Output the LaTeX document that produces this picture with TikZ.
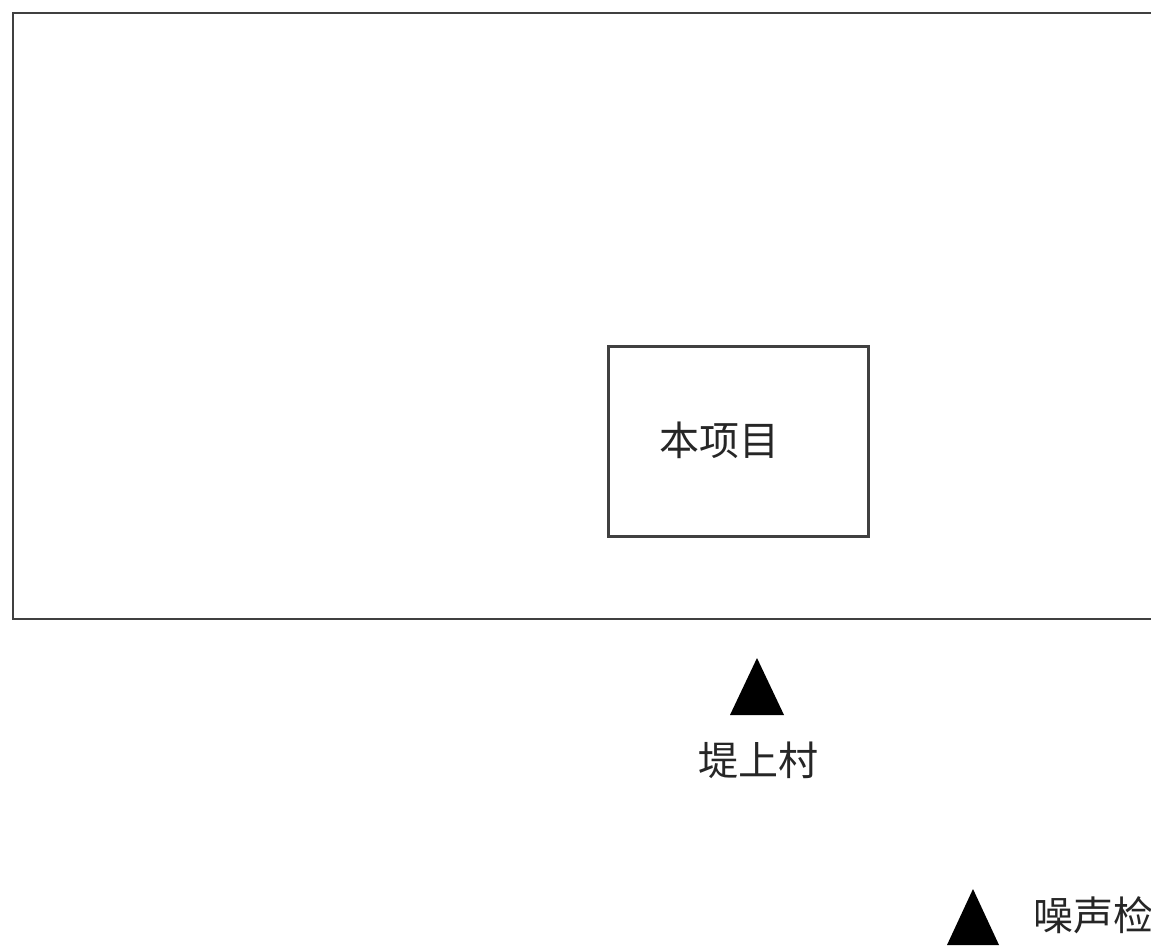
\documentclass[tikz,border=0pt]{standalone}
\usepackage{fontspec}
\newfontfamily\cjk{Noto Sans CJK SC}
\begin{document}
\begin{tikzpicture}[x=1pt,y=-1pt,
  frame/.style={draw=black!75, line width=2.6pt},
  lbl/.style={font=\cjk\fontsize{40}{44}\selectfont, text=black!85, inner sep=0pt},
  tri/.style={fill=black, draw=none}]
\useasboundingbox (0,0) rectangle (1151,949);
\fill[white] (0,0) rectangle (1151,949);
\draw[frame] (13,13) rectangle (1170,619);
\node[frame, minimum width=260pt, minimum height=190pt, inner sep=0pt, anchor=north west] (proj) at (607,345) {};
\node[lbl] (projlbl) at (719,440) {本项目};
\fill[tri] (757,658) -- (784,715) -- (730,715) -- cycle;
\node[lbl] (village) at (758,760) {堤上村};
\fill[tri] (973,889) -- (999,945) -- (947,945) -- cycle;
\node[lbl, anchor=west] (noise) at (1033,915) {噪声检};
\end{tikzpicture}
\end{document}
